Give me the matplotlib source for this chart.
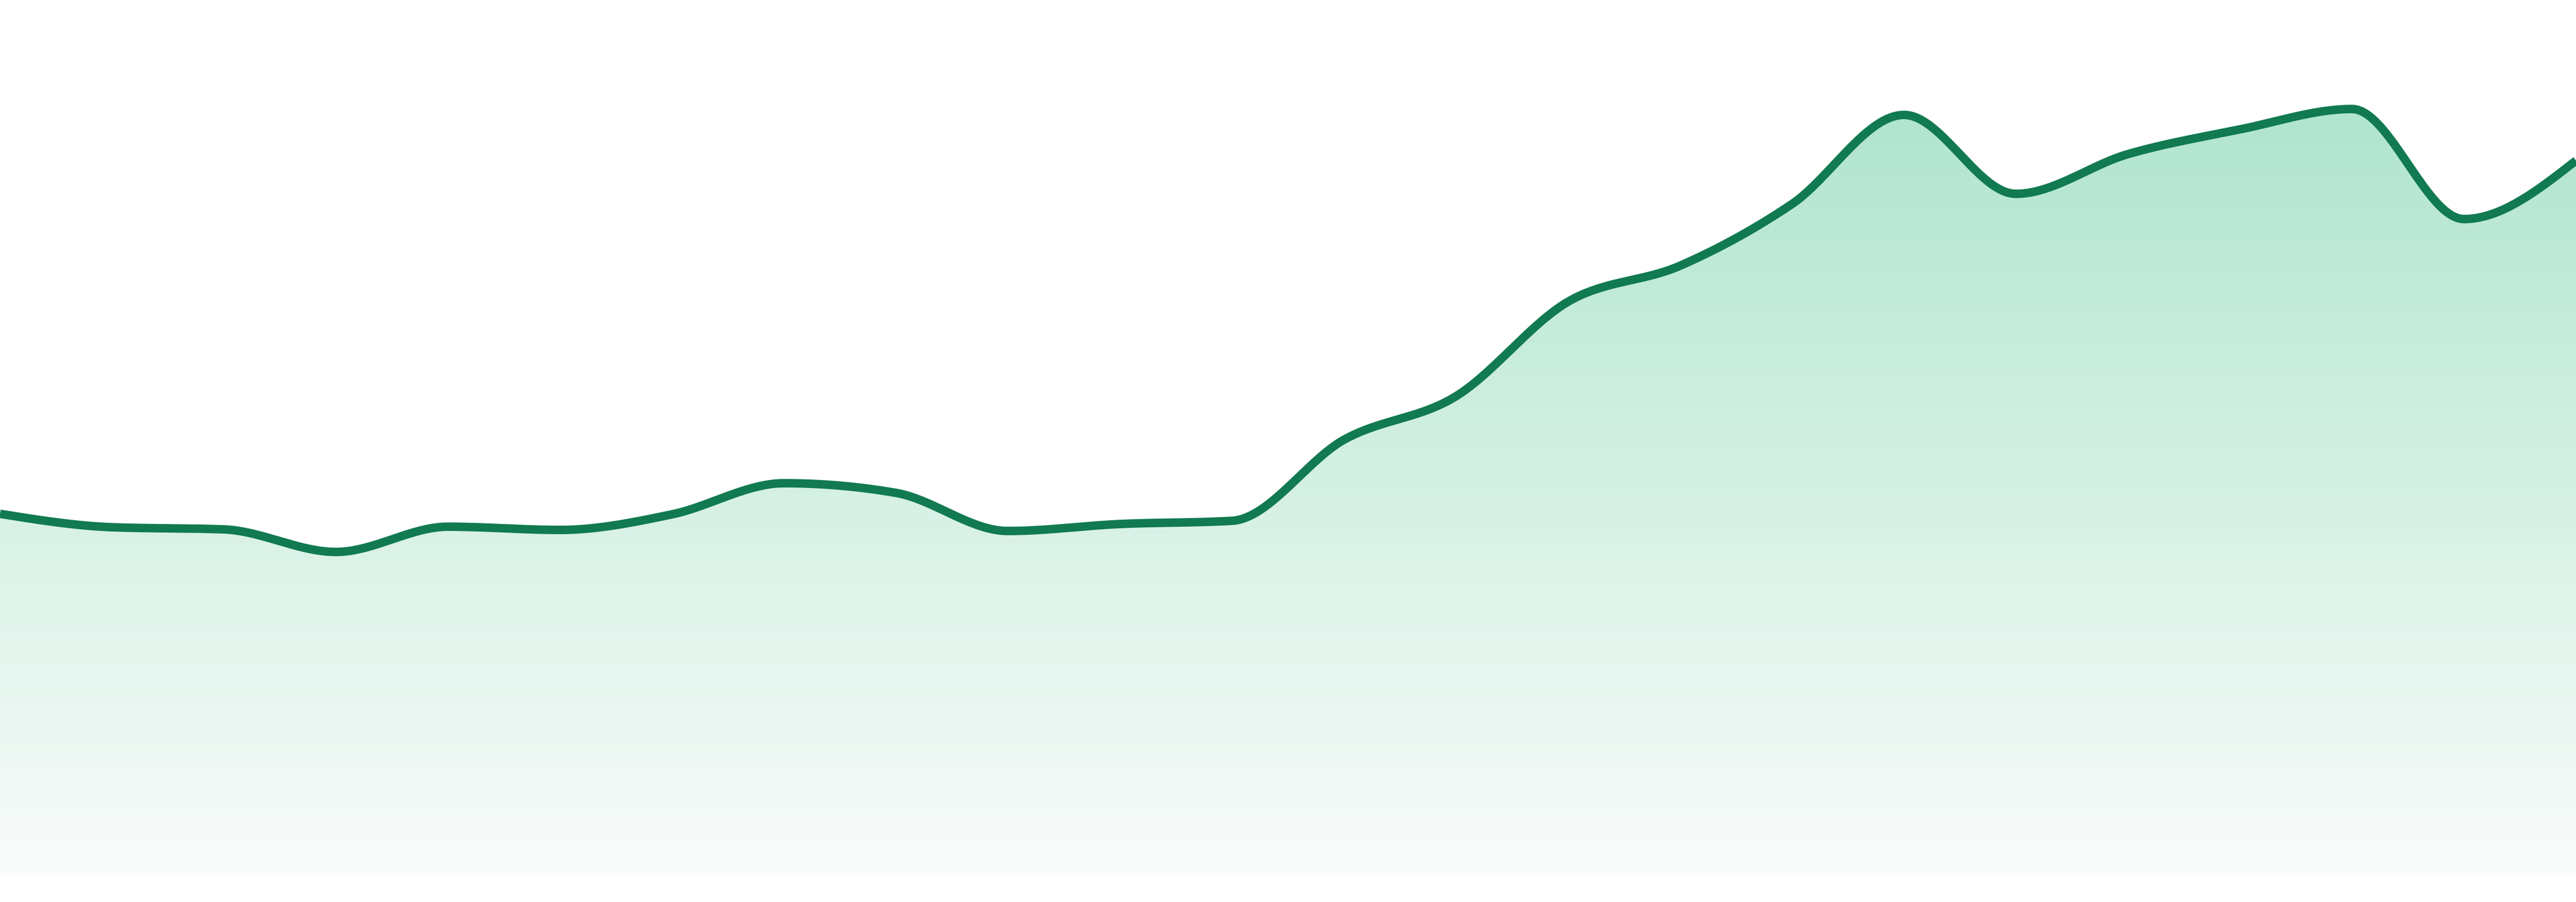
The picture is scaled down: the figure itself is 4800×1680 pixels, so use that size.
import numpy as np
import matplotlib
matplotlib.use("Agg")
import matplotlib.pyplot as plt

# values (24 evenly spaced samples)
periods = list(range(24))
values = [67.5, 65.0, 64.6, 60.4, 65.1, 64.5, 67.4, 73.2, 71.4, 64.3, 65.6, 66.2,
          81.3, 89.4, 107.0, 113.7, 125.2, 141.8, 127.1, 134.5, 139.1, 142.9, 122.4, 133.3]

LINE_COLOR = "#117a51"
TOP_COLOR = (176, 229, 207)
BOTTOM_COLOR = (250, 252, 251)


def monotone_x(x, y, n=40):
    # same idea as d3.curveMonotoneX (Steffen tangents)
    x = np.asarray(x, float)
    y = np.asarray(y, float)
    h = np.diff(x)
    s = np.diff(y) / h
    t = np.zeros_like(y)
    for i in range(1, len(y) - 1):
        p = (s[i - 1] * h[i] + s[i] * h[i - 1]) / (h[i - 1] + h[i])
        t[i] = (np.sign(s[i - 1]) + np.sign(s[i])) * min(abs(s[i - 1]), abs(s[i]), 0.5 * abs(p))
    t[0] = (3 * s[0] - t[1]) / 2
    t[-1] = (3 * s[-1] - t[-2]) / 2
    xs, ys = [], []
    for i in range(len(x) - 1):
        u = np.linspace(0, 1, n, endpoint=(i == len(x) - 2))
        h00 = 2 * u**3 - 3 * u**2 + 1
        h10 = u**3 - 2 * u**2 + u
        h01 = -2 * u**3 + 3 * u**2
        h11 = u**3 - u**2
        xs.append(x[i] + u * h[i])
        ys.append(h00 * y[i] + h10 * h[i] * t[i] + h01 * y[i + 1] + h11 * h[i] * t[i + 1])
    return np.concatenate(xs), np.concatenate(ys)


fig = plt.figure(figsize=(16, 5.6), dpi=300)
ax = fig.add_axes([0, 48 / 1680, 1, 1632 / 1680])
ax.set_xlim(periods[0], periods[-1])
ax.set_ylim(0, 163.2)
ax.axis("off")

xs, ys = monotone_x(periods, values)

# gradient fill under the curve
area = ax.fill_between(xs, ys, 0, color="none", lw=0)
top = max(values)
grad = np.linspace(0, 1, 256)[:, None]
rgb = np.array(TOP_COLOR)[None, :] * (1 - grad) + np.array(BOTTOM_COLOR)[None, :] * grad
img = ax.imshow((rgb / 255.0)[:, None, :], aspect="auto",
                extent=[periods[0], periods[-1], 0, top], origin="upper", zorder=1)
img.set_clip_path(area.get_paths()[0], transform=ax.transData)

ax.plot(xs, ys, color=LINE_COLOR, lw=3.8, solid_capstyle="butt", zorder=2)

fig.savefig("out.png", dpi=300, facecolor="white")
